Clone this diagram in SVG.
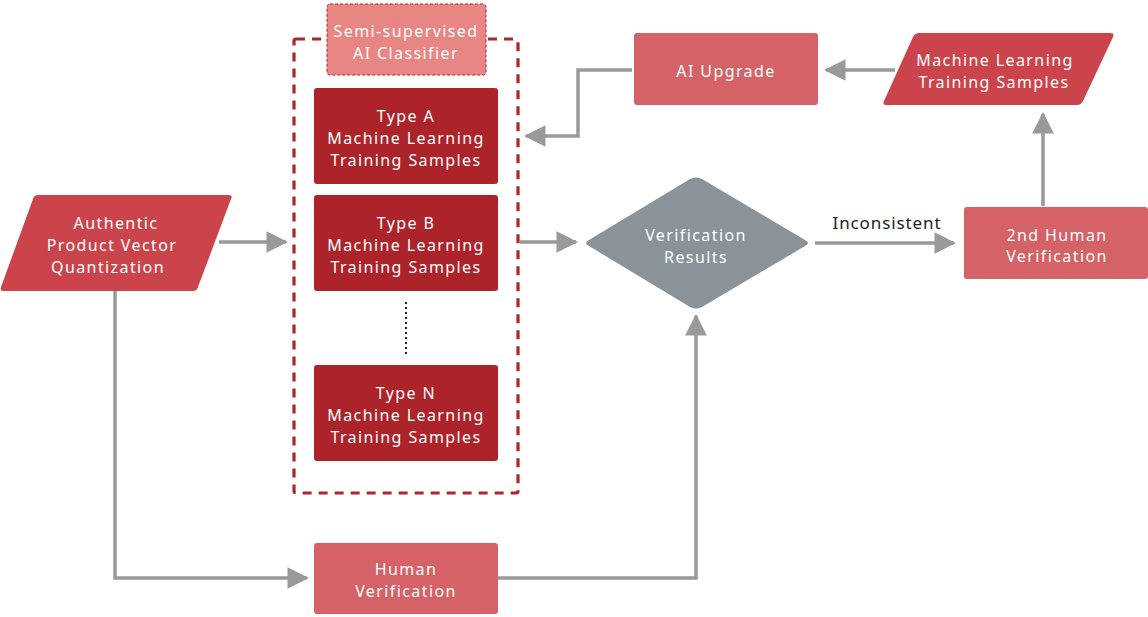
<svg xmlns="http://www.w3.org/2000/svg" width="1148" height="617" viewBox="0 0 1148 617">
<style>
text{font-family:"Noto Sans","Open Sans",sans-serif;font-size:16px;fill:#fff;text-anchor:middle;letter-spacing:1.4px}
.c{fill:none;stroke:#999;stroke-width:3.5}
.lbl{fill:#222;font-size:17px;letter-spacing:0.9px}
</style>
<defs>
<marker id="ah" viewBox="0 0 10 10" refX="9" refY="5" markerWidth="6.2" markerHeight="6.2" orient="auto" markerUnits="strokeWidth"><path d="M0,0 L10,5 L0,10 z" fill="#999"/></marker>
</defs>
<rect width="1148" height="617" fill="#fff"/>
<g id="connectors">
<path class="c" d="M219,242 H286" marker-end="url(#ah)"/>
<path class="c" d="M520,242 H576" marker-end="url(#ah)"/>
<path class="c" d="M815,243 H954" marker-end="url(#ah)"/>
<path class="c" d="M1043,206 V114" marker-end="url(#ah)"/>
<path class="c" d="M895,70 H826" marker-end="url(#ah)"/>
<path class="c" d="M632,70 H578 V136 H526" marker-end="url(#ah)"/>
<path class="c" d="M115,291 V578 H307" marker-end="url(#ah)"/>
<path class="c" d="M498,578 H696 V316" marker-end="url(#ah)"/>
<text class="lbl" x="887" y="229">Inconsistent</text>
</g>
<g id="container"><rect x="294" y="39" width="224" height="454" rx="2" fill="none" stroke="#b0242b" stroke-width="3.2" stroke-dasharray="9,7"/></g>
<g id="classifier"><rect x="327" y="4" width="159" height="71" rx="3" fill="#e88683" stroke="#b0242b" stroke-width="1" stroke-dasharray="3,2"/><text x="406" y="37">Semi-supervised</text><text x="406" y="59">AI Classifier</text></g>
<g id="authentic"><path d="M36,195 H229 Q233,195 231,199 L198,287 Q197,291 193,291 H3 Q0,291 1,287 L33,199 Q34,195 38,195 z" fill="#cc444b"/><text x="116" y="229">Authentic</text><text x="112" y="251">Product Vector</text><text x="108" y="273">Quantization</text></g>
<g id="typeA"><rect x="314" y="88" width="184" height="96" rx="3" fill="#ac242a"/><text x="406" y="122">Type A</text><text x="406" y="144">Machine Learning</text><text x="406" y="166">Training Samples</text></g>
<g id="typeB"><rect x="314" y="195" width="184" height="96" rx="3" fill="#ac242a"/><text x="406" y="229">Type B</text><text x="406" y="251">Machine Learning</text><text x="406" y="273">Training Samples</text></g>
<g id="dots"><line x1="406" y1="302" x2="406" y2="354" stroke="#222" stroke-width="2" stroke-dasharray="2,3"/></g>
<g id="typeN"><rect x="314" y="365" width="184" height="96" rx="3" fill="#ac242a"/><text x="406" y="399">Type N</text><text x="406" y="421">Machine Learning</text><text x="406" y="443">Training Samples</text></g>
<g id="verification"><path d="M589,246 Q583,243 589,240 L690,179 Q696,176 702,179 L805,240 Q811,243 805,246 L702,307 Q696,310 690,307 z" fill="#8a939a"/><text x="696" y="241">Verification</text><text x="696" y="263">Results</text></g>
<g id="human2"><rect x="964" y="207" width="184" height="72" rx="3" fill="#d46266"/><text x="1057" y="241">2nd Human</text><text x="1057" y="262">Verification</text></g>
<g id="mlts"><path d="M917,33 H1110 Q1115,33 1113,37 L1083,101 Q1081,105 1077,105 H887 Q882,105 884,101 L913,37 Q915,33 919,33 z" fill="#cc444b"/><text x="995" y="66">Machine Learning</text><text x="994" y="88">Training Samples</text></g>
<g id="upgrade"><rect x="634" y="33" width="184" height="72" rx="3" fill="#d46266"/><text x="726" y="77">AI Upgrade</text></g>
<g id="human"><rect x="314" y="543" width="184" height="71" rx="3" fill="#d46266"/><text x="406" y="575">Human</text><text x="406" y="597">Verification</text></g>
</svg>
